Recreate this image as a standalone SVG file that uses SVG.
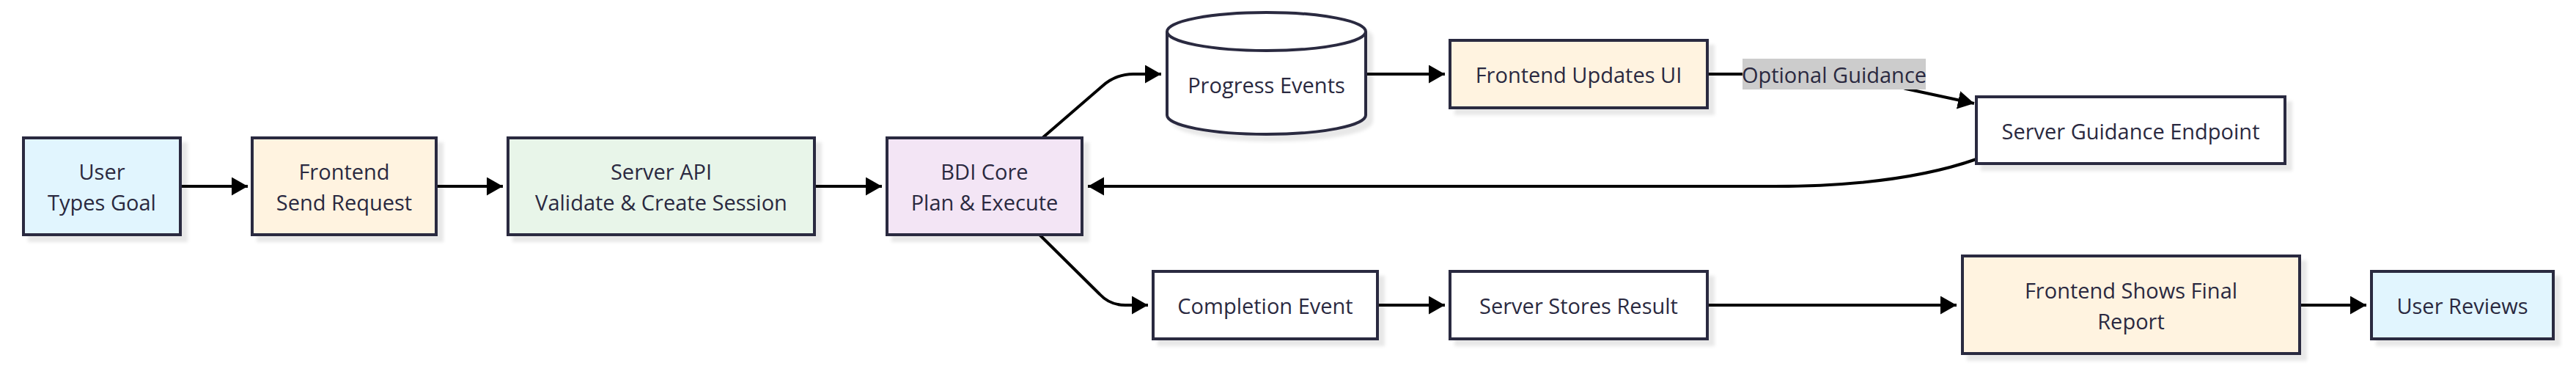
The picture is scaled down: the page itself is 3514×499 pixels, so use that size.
<svg xmlns="http://www.w3.org/2000/svg" width="3514" height="499" viewBox="0 0 3514 499">
<style>
.n{stroke:#2a2940;stroke-width:4;filter:url(#sh)}
.t{font-family:"Open Sans","Noto Sans",sans-serif;font-size:29px;fill:#2a2940;text-anchor:middle;dominant-baseline:central}
.e{fill:none;stroke:#000;stroke-width:4;marker-end:url(#ah)}
</style>
<defs>
<filter id="sh" x="-10%" y="-10%" width="130%" height="140%">
<feDropShadow dx="8" dy="8" stdDeviation="2" flood-color="#000" flood-opacity="0.09"/>
</filter>
<marker id="ah" markerUnits="userSpaceOnUse" markerWidth="24" markerHeight="26" refX="22" refY="12.5" orient="auto">
<path d="M0,0 L22,12.5 L0,25 z" fill="#000"/>
</marker>
</defs>
<rect width="3514" height="499" fill="#fff"/>
<g id="connectors">
<path class="e" d="M246,254 L338,254"/>
<path class="e" d="M595,254 L686,254"/>
<path class="e" d="M1111,254 L1203,254"/>
<path class="e" d="M1422,188 L1503,118 Q1522,101 1546,101 L1584,101"/>
<path class="e" d="M1863,101 L1971,101"/>
<path class="e" d="M2329,101 L2470,101 Q2545,101 2600,121 L2693,141"/>
<path class="e" d="M2696,217 Q2590,254 2420,254 L1484,254"/>
<path class="e" d="M1418,320 L1500,401 Q1514,416 1535,416 L1566,416"/>
<path class="e" d="M1879,416 L1971,416"/>
<path class="e" d="M2329,416 L2669,416"/>
<path class="e" d="M3137,416 L3228,416"/>
</g>
<g id="edge-label">
<rect x="2377" y="80" width="250" height="42" fill="#cccccc"/>
<text class="t" x="2502" y="101">Optional Guidance</text>
</g>
<g id="user">
<rect class="n" x="32" y="188" width="214" height="132" fill="#e1f5fe"/>
<text class="t" x="139" y="233">User</text>
<text class="t" x="139" y="275">Types Goal</text>
</g>
<g id="frontend-send">
<rect class="n" x="344" y="188" width="251" height="132" fill="#fff3e0"/>
<text class="t" x="469.5" y="233">Frontend</text>
<text class="t" x="469.5" y="275">Send Request</text>
</g>
<g id="server-api">
<rect class="n" x="693" y="188" width="418" height="132" fill="#e8f5e9"/>
<text class="t" x="902" y="233">Server API</text>
<text class="t" x="902" y="275">Validate &amp; Create Session</text>
</g>
<g id="bdi-core">
<rect class="n" x="1210" y="188" width="266" height="132" fill="#f3e5f5"/>
<text class="t" x="1343" y="233">BDI Core</text>
<text class="t" x="1343" y="275">Plan &amp; Execute</text>
</g>
<g id="progress-events">
<path class="n" fill="#fff" d="M1592,43 a135.5,26 0 0 0 271,0 a135.5,26 0 0 0 -271,0 l0,114 a135.5,26 0 0 0 271,0 l0,-114"/>
<text class="t" x="1727.5" y="115">Progress Events</text>
</g>
<g id="frontend-updates">
<rect class="n" x="1978" y="55" width="351" height="92" fill="#fff3e0"/>
<text class="t" x="2153.5" y="101">Frontend Updates UI</text>
</g>
<g id="server-guidance">
<rect class="n" x="2696" y="132" width="421" height="91" fill="#fff"/>
<text class="t" x="2906.5" y="178">Server Guidance Endpoint</text>
</g>
<g id="completion-event">
<rect class="n" x="1573" y="370" width="306" height="92" fill="#fff"/>
<text class="t" x="1726" y="416">Completion Event</text>
</g>
<g id="server-stores">
<rect class="n" x="1978" y="370" width="351" height="92" fill="#fff"/>
<text class="t" x="2153.5" y="416">Server Stores Result</text>
</g>
<g id="frontend-final">
<rect class="n" x="2677" y="349" width="460" height="133" fill="#fff3e0"/>
<text class="t" x="2907" y="395">Frontend Shows Final</text>
<text class="t" x="2907" y="437">Report</text>
</g>
<g id="user-reviews">
<rect class="n" x="3235" y="370" width="248" height="92" fill="#e1f5fe"/>
<text class="t" x="3359" y="416">User Reviews</text>
</g>
</svg>
